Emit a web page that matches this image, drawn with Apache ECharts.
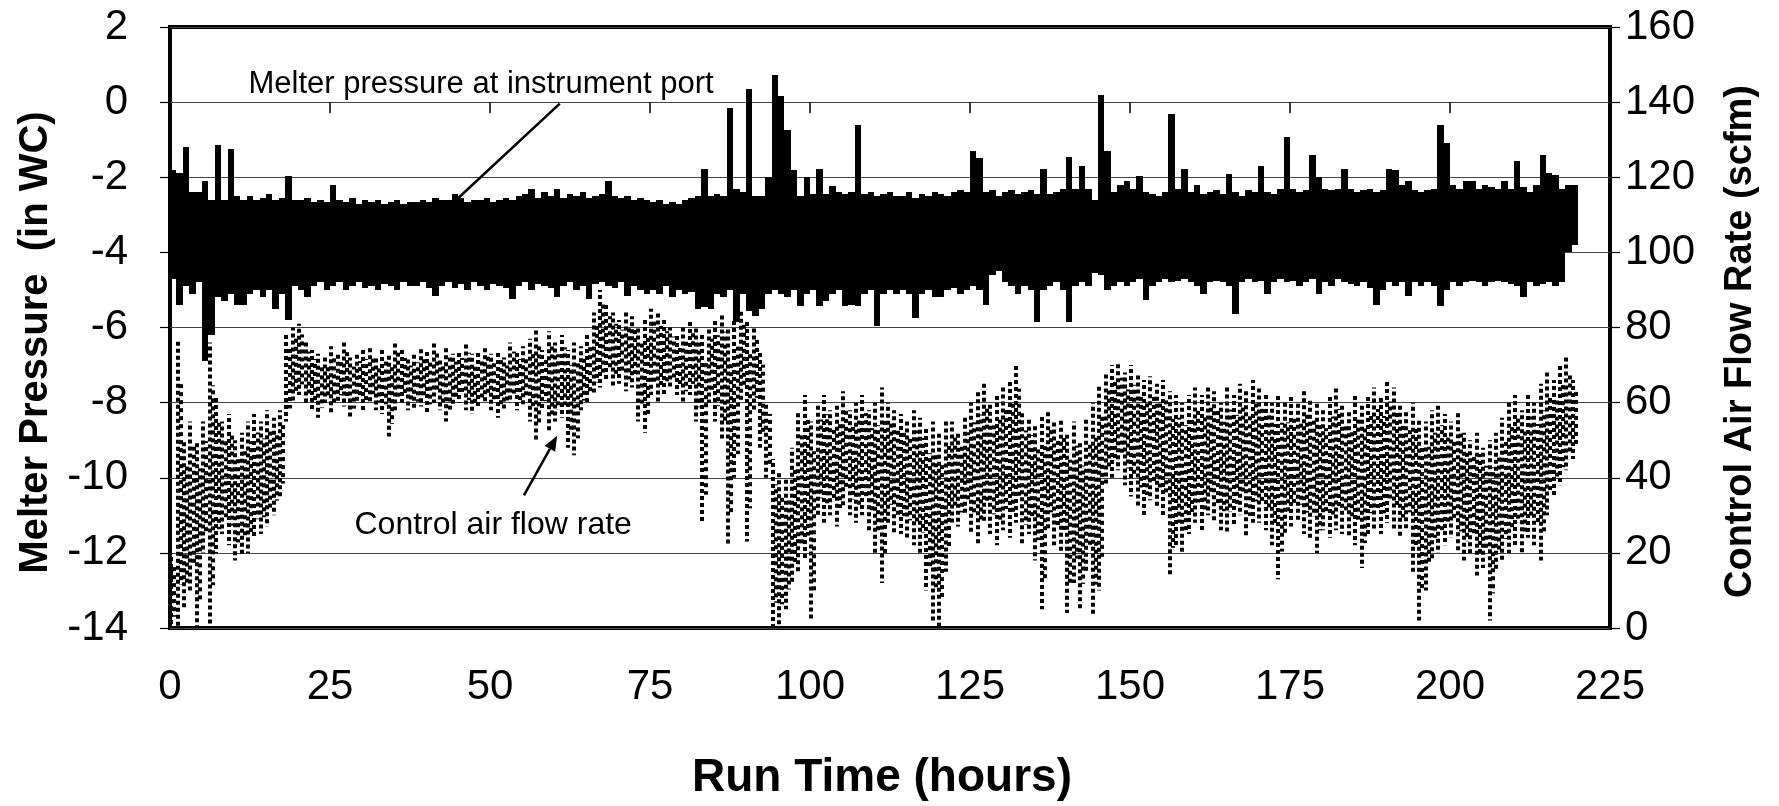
<!DOCTYPE html>
<html><head><meta charset="utf-8">
<script src="https://cdn.jsdelivr.net/npm/echarts@6/dist/echarts.min.js"></script>
<style>html,body{margin:0;padding:0;background:#fff}#c{width:1779px;height:806px}</style>
</head><body><div id="c"></div>
<script>
// Melter pressure (in WC): upper and lower envelope of the noisy trace, one pair per run hour (0..219)
const pressureHigh = [
-1.8,-1.9,-1.2,-2.4,-2.4,-2.1,-2.6,-1.15,-2.6,-1.25,
-2.5,-2.6,-2.5,-2.6,-2.55,-2.45,-2.6,-2.55,-1.97,-2.6,
-2.6,-2.55,-2.65,-2.6,-2.65,-2.2,-2.6,-2.65,-2.55,-2.7,
-2.6,-2.65,-2.6,-2.7,-2.65,-2.6,-2.7,-2.65,-2.65,-2.6,
-2.65,-2.55,-2.6,-2.6,-2.45,-2.55,-2.65,-2.6,-2.6,-2.55,
-2.65,-2.6,-2.55,-2.6,-2.5,-2.45,-2.3,-2.55,-2.4,-2.5,
-2.3,-2.55,-2.45,-2.5,-2.4,-2.55,-2.5,-2.45,-2.1,-2.5,
-2.55,-2.5,-2.6,-2.55,-2.6,-2.65,-2.6,-2.7,-2.65,-2.7,
-2.6,-2.55,-2.5,-1.77,-2.5,-2.45,-2.5,-0.16,-2.3,-2.4,
0.36,-2.5,-2.5,-2.0,0.72,0.15,-0.73,-1.8,-2.5,-2.0,
-2.45,-1.77,-2.45,-2.23,-2.4,-2.45,-2.4,-0.62,-2.45,-2.4,
-2.5,-2.45,-2.4,-2.5,-2.5,-2.4,-2.55,-2.45,-2.5,-2.4,
-2.45,-2.5,-2.4,-2.35,-2.4,-1.3,-1.5,-2.4,-2.35,-2.5,
-2.4,-2.35,-2.45,-2.4,-2.35,-2.45,-1.77,-2.45,-2.4,-2.3,
-1.45,-2.3,-1.7,-2.3,-2.6,0.2,-1.3,-2.4,-2.2,-2.1,
-2.3,-1.97,-2.4,-2.45,-2.5,-2.4,-0.31,-2.3,-1.77,-2.4,
-2.2,-2.45,-2.4,-2.35,-2.45,-1.92,-2.4,-2.5,-2.35,-2.4,
-1.71,-2.4,-2.45,-2.3,-0.94,-2.3,-2.4,-2.35,-1.4,-2.0,
-2.3,-2.35,-2.3,-1.77,-2.3,-2.4,-2.35,-2.3,-2.4,-2.35,
-1.77,-1.8,-2.2,-2.1,-2.35,-2.4,-2.35,-2.3,-0.62,-1.1,
-2.2,-2.3,-2.1,-2.1,-2.3,-2.2,-2.25,-2.3,-2.1,-2.3,
-1.56,-2.25,-2.4,-2.2,-1.4,-1.9,-1.95,-2.3,-2.2,-2.2
];
const pressureLow = [
-4.7,-5.4,-4.9,-5.1,-4.8,-6.9,-6.2,-5.2,-5.3,-5.1,
-5.4,-5.4,-5.1,-5.0,-5.2,-5.0,-5.5,-5.1,-5.8,-4.9,
-5.0,-5.2,-4.9,-4.8,-5.0,-4.9,-4.8,-5.0,-4.9,-4.8,
-4.95,-4.9,-5.0,-4.85,-4.9,-5.0,-4.8,-4.9,-4.9,-4.8,
-4.95,-5.15,-4.9,-4.8,-4.95,-4.85,-5.0,-4.8,-4.9,-5.0,
-4.85,-4.9,-4.95,-5.25,-4.9,-4.8,-5.0,-4.85,-4.9,-4.95,
-5.2,-4.9,-4.8,-5.0,-4.9,-5.25,-4.85,-4.8,-4.9,-4.95,
-4.8,-5.15,-4.9,-5.0,-5.1,-5.0,-5.1,-4.9,-5.2,-5.0,
-5.1,-5.05,-5.5,-5.45,-5.5,-5.1,-5.2,-5.0,-5.85,-5.1,
-5.55,-5.7,-5.5,-5.1,-5.0,-5.1,-5.2,-5.0,-5.44,-5.1,
-5.0,-5.44,-5.3,-5.1,-5.0,-5.44,-5.4,-5.44,-5.1,-5.0,
-5.96,-5.1,-5.0,-5.1,-5.0,-5.1,-5.75,-5.1,-5.0,-5.2,
-5.2,-5.0,-4.95,-5.1,-5.0,-4.9,-5.0,-5.4,-4.6,-4.5,
-4.8,-4.9,-5.1,-4.9,-5.0,-5.85,-5.0,-4.9,-4.8,-5.0,
-5.85,-4.9,-4.8,-4.9,-4.55,-4.6,-5.0,-4.9,-4.8,-4.9,
-4.8,-4.7,-5.28,-4.9,-4.8,-4.7,-4.8,-4.75,-4.7,-4.8,
-4.9,-5.1,-4.8,-4.75,-4.8,-4.9,-5.65,-4.8,-4.7,-4.8,
-4.75,-5.1,-4.8,-4.7,-4.8,-4.75,-4.9,-4.8,-4.7,-5.1,
-4.8,-4.9,-4.7,-4.8,-4.85,-4.9,-4.8,-4.95,-5.4,-5.0,
-4.8,-4.9,-4.8,-5.15,-4.8,-4.9,-4.8,-4.9,-5.44,-5.0,
-4.8,-4.9,-4.8,-4.75,-4.8,-4.9,-4.8,-4.75,-4.8,-4.85,
-4.9,-5.2,-4.8,-4.9,-4.85,-4.8,-4.9,-4.8,-4.0,-3.8
];
// Control air flow rate (scfm): upper and lower spread per run hour (0..219)
const flowHigh = [
20,77,50,55,50,55,76,62,55,57,
50,52,55,57,55,58,56,58,78,80,
81,76,74,73,72,75,73,76,72,73,
74,75,72,74,73,76,74,72,73,75,
74,76,72,75,73,74,76,73,74,75,
73,74,72,76,74,75,77,80,74,79,
76,78,74,76,75,78,84,90,86,84,
82,84,83,80,82,85,84,82,80,78,
80,82,80,78,80,82,84,80,82,85,
82,80,74,60,45,42,40,48,58,62,
55,60,62,58,60,63,58,60,62,58,
60,64,60,58,57,55,58,56,53,55,
52,55,55,52,56,60,63,65,60,62,
64,66,70,58,56,54,57,58,55,56,
52,55,50,56,60,65,68,70,71,68,
70,68,66,67,65,66,63,62,60,62,
64,62,64,63,60,64,62,65,63,66,
64,62,60,62,60,62,60,63,61,60,
58,62,64,60,58,62,60,62,64,62,
66,64,60,58,60,56,55,58,60,57,
55,58,52,50,52,48,50,52,56,60,
62,58,62,60,65,68,66,70,72,66
];
const flowLow = [
0,0,5,10,0,20,0,20,25,22,
18,19,20,24,25,27,30,35,55,60,
62,60,58,56,60,57,60,59,56,60,
58,60,58,57,51,58,60,58,58,59,
57,60,58,55,59,60,58,57,59,60,
58,56,58,60,58,59,55,50,58,52,
55,56,48,46,58,60,62,64,66,64,
65,63,64,55,52,62,60,62,64,62,
60,62,55,28,60,55,50,22,40,60,
23,58,48,40,0,0,5,12,15,18,
2,30,28,30,27,32,30,28,30,26,
20,12,28,25,25,24,22,20,10,2,
0,15,28,27,30,25,22,28,25,22,
26,24,28,22,25,18,5,26,22,20,
4,12,5,15,3,10,38,40,42,38,
35,32,30,34,32,30,14,22,20,25,
28,26,30,28,26,25,27,30,24,28,
28,26,22,13,25,27,28,25,24,20,
26,24,26,25,24,22,16,25,26,25,
28,26,24,26,15,2,10,18,20,22,
24,20,18,20,14,16,2,15,18,20,
22,20,24,22,18,30,35,38,42,45
];
const xTicks = {min: 0, max: 225, step: 25};
const pTicks = {min: -14, max: 2, step: 2};
const fTicks = {min: 0, max: 160, step: 20};
const labels = {
  x: 'Run Time (hours)',
  yLeft: 'Melter Pressure  (in WC)',
  yRight: 'Control Air Flow Rate (scfm)',
  pressureNote: 'Melter pressure at instrument port',
  flowNote: 'Control air flow rate'
};

const baseFamily = "'Liberation Sans', Arial, sans-serif";
const tickLabel = {color:'#000', fontFamily: baseFamily, fontSize: 42};

const pressureRows = pressureHigh.map((v,i)=>[i, v, pressureLow[i]]);
const flowRows = flowHigh.map((v,i)=>[i, v, flowLow[i]]);

// dash phase per column (styling only, varies the dotted texture)
function phase(k, m){ return ((k * 2654435761) >>> 0) % m; }

const chart = echarts.init(document.getElementById('c'), null, {renderer:'canvas'});
chart.setOption({
  animation:false,
  backgroundColor:'#fff',
  grid:{left:170, right:169, top:27, bottom:176, show:true, borderColor:'#000', borderWidth:4, backgroundColor:'transparent'},
  xAxis:{type:'value', min:xTicks.min, max:xTicks.max, interval:xTicks.step,
    axisLine:{show:false}, axisTick:{show:true, length:11, lineStyle:{color:'#000', width:1.5}},
    axisLabel:Object.assign({margin:38}, tickLabel), splitLine:{show:false},
    name:labels.x, nameLocation:'middle', nameGap:127,
    nameTextStyle:{fontFamily:baseFamily, fontWeight:'bold', fontSize:46, color:'#000', padding:[0,16,0,0]}},
  yAxis:[
    {type:'value', min:pTicks.min, max:pTicks.max, interval:pTicks.step, position:'left',
      axisLine:{show:false}, axisTick:{show:true, length:10, lineStyle:{color:'#000', width:1.2}},
      axisLabel:Object.assign({margin:42}, tickLabel),
      splitLine:{show:true, lineStyle:{color:'#444', width:1}},
      name:labels.yLeft, nameLocation:'middle', nameGap:114,
      nameTextStyle:{fontFamily:baseFamily, fontWeight:'bold', fontSize:40, color:'#000', padding:[0,30,0,0]}},
    {type:'value', min:fTicks.min, max:fTicks.max, interval:fTicks.step, position:'right',
      axisLine:{show:false}, axisTick:{show:true, length:10, lineStyle:{color:'#000', width:1.2}},
      axisLabel:Object.assign({margin:15}, tickLabel), splitLine:{show:false},
      name:labels.yRight, nameLocation:'middle', nameGap:112,
      nameTextStyle:{fontFamily:baseFamily, fontWeight:'bold', fontSize:38, color:'#000', padding:[0,28,0,0]}}
  ],
  series:[
    {name:'flow', type:'custom', yAxisIndex:1, data:flowRows, silent:true, z:2, clip:true,
      encode:{x:0, y:[1,2]},
      renderItem:function(params, api){
        const t = api.value(0), hi = api.value(1), lo = api.value(2), span = hi - lo;
        const a = api.coord([t+0.2, hi]), b = api.coord([t+0.2, lo]);
        const c = api.coord([t+0.7, hi - 0.15*span]), d = api.coord([t+0.7, lo + 0.15*span]);
        const xa = Math.round(a[0]), xc = Math.round(c[0]);
        const k = params.dataIndex;
        return {type:'group', children:[
          {type:'line', shape:{x1:xa, y1:a[1], x2:xa, y2:b[1]},
            style:{stroke:'#000', lineWidth:4, lineDash:[4,3], lineDashOffset:phase(k+11,7)}},
          {type:'line', shape:{x1:xc, y1:c[1], x2:xc, y2:d[1]},
            style:{stroke:'#000', lineWidth:4, lineDash:[4,4], lineDashOffset:phase(k+101,8)}}
        ]};
      }},
    {name:'pressure', type:'custom', yAxisIndex:0, data:pressureRows, silent:true, z:3, clip:true,
      encode:{x:0, y:[1,2]},
      renderItem:function(params, api){
        const t = api.value(0);
        const a = api.coord([t, api.value(1)]), b = api.coord([t+1, api.value(2)]);
        const x1 = Math.round(a[0]), x2 = Math.round(b[0]);
        return {type:'rect', shape:{x:x1, y:Math.round(a[1]), width:x2-x1, height:Math.round(b[1])-Math.round(a[1])}, style:{fill:'#000'}};
      }}
  ]
});

function px(x, y, axis){ return chart.convertToPixel({xAxisIndex:0, yAxisIndex:axis}, [x, y]); }
const pt = px(48.6, 0.46, 0), pa = px(60.9, -0.04, 0), pb = px(44.5, -2.64, 0);
const ft = px(50.5, 27.3, 1), fa = px(55.3, 35.3, 1), fb = px(60.5, 51.2, 1);
const dx = fb[0]-fa[0], dy = fb[1]-fa[1], L = Math.hypot(dx,dy), ux=dx/L, uy=dy/L;
const hl=15, hw=6;
const base=[fb[0]-ux*hl, fb[1]-uy*hl];
chart.setOption({graphic:[
  {type:'text', style:{text:labels.pressureNote, x:pt[0], y:pt[1], align:'center', verticalAlign:'middle', font:'31px '+baseFamily, fill:'#000'}},
  {type:'line', shape:{x1:pa[0], y1:pa[1], x2:pb[0], y2:pb[1]}, style:{stroke:'#000', lineWidth:2.5}},
  {type:'text', style:{text:labels.flowNote, x:ft[0], y:ft[1], align:'center', verticalAlign:'middle', font:'32px '+baseFamily, fill:'#000'}},
  {type:'line', shape:{x1:fa[0], y1:fa[1], x2:base[0], y2:base[1]}, style:{stroke:'#000', lineWidth:2.5}},
  {type:'polygon', shape:{points:[[fb[0],fb[1]],[base[0]-uy*hw, base[1]+ux*hw],[base[0]+uy*hw, base[1]-ux*hw]]}, style:{fill:'#000'}}
]});
</script></body></html>
